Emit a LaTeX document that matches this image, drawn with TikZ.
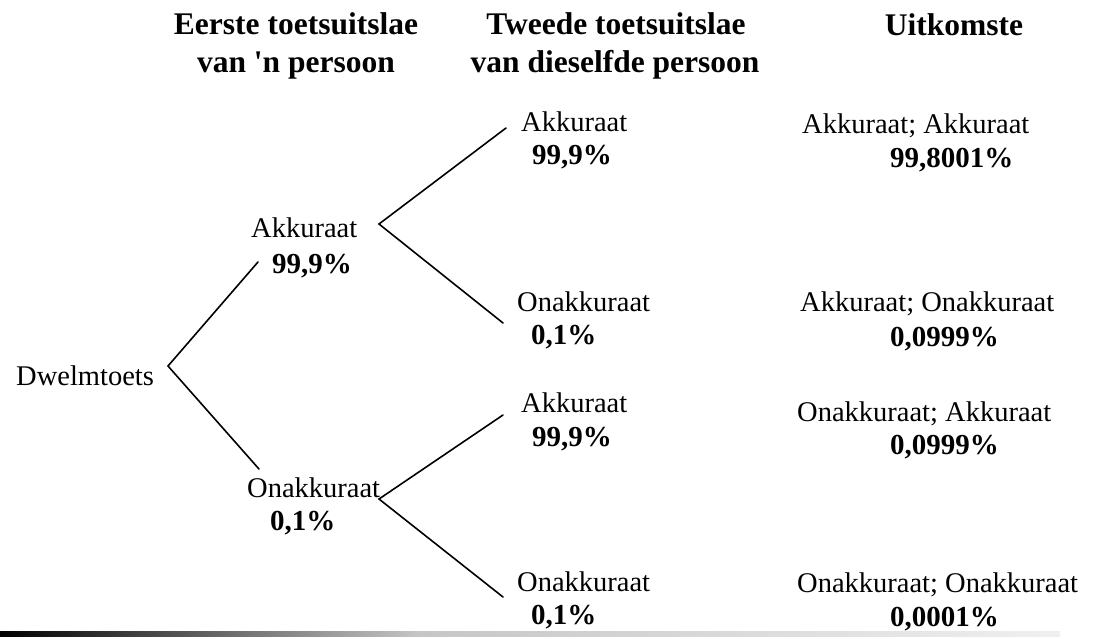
\documentclass[tikz,border=0pt]{standalone}
\usepackage{fontspec}
\setmainfont{Liberation Serif}
\begin{document}
\begin{tikzpicture}[x=1pt,y=-1pt,
  lbl/.style={anchor=base west,inner sep=0pt,font=\fontsize{28.5}{30}\selectfont},
  num/.style={anchor=base west,inner sep=0pt,font=\fontsize{29}{30}\selectfont\bfseries},
  head/.style={anchor=base,inner sep=0pt,font=\fontsize{31.5}{33}\selectfont\bfseries},
  branch/.style={line width=1.6pt,line cap=round,line join=miter}]
\useasboundingbox (0,0) rectangle (1103,638);
% headings
\node[head] (h1a) at (296,34) {Eerste toetsuitslae};
\node[head] (h1b) at (296,72) {van \textquotesingle n persoon};
\node[head] (h2a) at (616,34) {Tweede toetsuitslae};
\node[head] (h2b) at (615,72) {van dieselfde persoon};
\node[head] (h3) at (954,35) {Uitkomste};
% labels
\node[lbl] (dw) at (16,385) {Dwelmtoets};
\node[lbl] (a1) at (251,237) {Akkuraat};
\node[num] (a1p) at (272,273) {99,9\%};
\node[lbl] (o1) at (247,497) {Onakkuraat};
\node[num] (o1p) at (270,530) {0,1\%};
\node[lbl] (aa) at (521,131) {Akkuraat};
\node[num] (aap) at (532,164) {99,9\%};
\node[lbl] (ao) at (517,311) {Onakkuraat};
\node[num] (aop) at (531,344) {0,1\%};
\node[lbl] (oa) at (521,412) {Akkuraat};
\node[num] (oap) at (532,446) {99,9\%};
\node[lbl] (oo) at (517,591) {Onakkuraat};
\node[num] (oop) at (531,624) {0,1\%};
% outcomes
\node[lbl] (r1) at (802,133) {Akkuraat; Akkuraat};
\node[num] (r1p) at (890,167) {99,8001\%};
\node[lbl] (r2) at (800,311) {Akkuraat; Onakkuraat};
\node[num] (r2p) at (890,346) {0,0999\%};
\node[lbl] (r3) at (797,421) {Onakkuraat; Akkuraat};
\node[num] (r3p) at (890,454) {0,0999\%};
\node[lbl] (r4) at (797,592) {Onakkuraat; Onakkuraat};
\node[num] (r4p) at (890,626) {0,0001\%};
% branch points
\coordinate (root) at (168,366);
\coordinate (ra) at (258,262);
\coordinate (ro) at (259,469);
\coordinate (va) at (379,224);
\coordinate (vaa) at (506,128);
\coordinate (vao) at (503,323);
\coordinate (vo) at (379,499);
\coordinate (voa) at (503,415);
\coordinate (voo) at (503,597);
\draw[branch] (ra) -- (root) -- (ro);
\draw[branch] (vaa) -- (va) -- (vao);
\draw[branch] (voa) -- (vo) -- (voo);
% bottom rule
\coordinate (bl) at (0,631);
\coordinate (bm) at (420,636);
\coordinate (bm2) at (420,631);
\coordinate (br) at (1060,636);
\shade[left color=black,right color=gray!45] (bl) rectangle (bm);
\shade[left color=gray!45,right color=gray!12] (bm2) rectangle (br);
\end{tikzpicture}
\end{document}
